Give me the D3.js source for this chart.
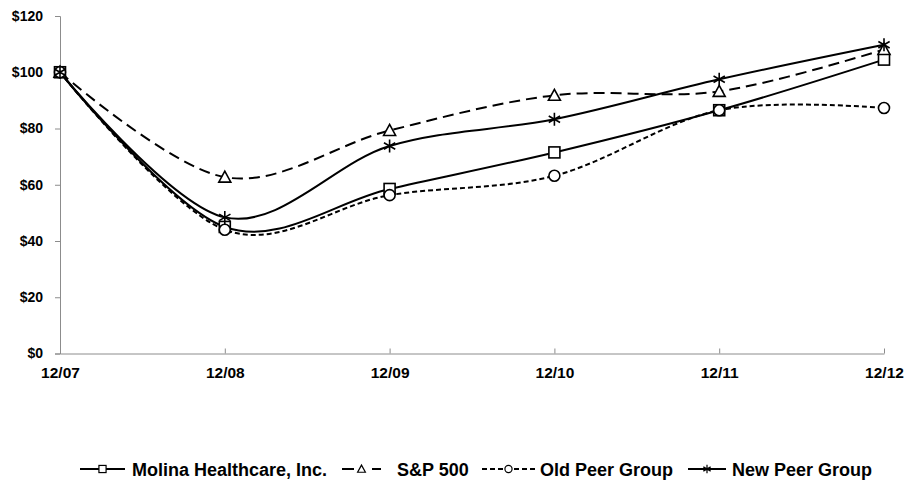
<!DOCTYPE html>
<html><head><meta charset="utf-8">
<script src="https://cdn.jsdelivr.net/npm/d3@7"></script>
<style>body{margin:0;background:#fff;}svg{display:block;font-family:"Liberation Sans",Arial,sans-serif;font-weight:bold;}</style>
</head><body>
<svg id="c" width="906" height="483"></svg>
<script>
const categories = ["12/07","12/08","12/09","12/10","12/11","12/12"];
const molina = [100, 45, 58.5, 71.5, 86.5, 104.5];
const sp500 = [100, 62.7, 79.3, 91.8, 93.2, 108.1];
const oldPeer = [100, 44, 56.3, 63.2, 86.5, 87.3];
const newPeer = [100, 48.4, 73.8, 83.3, 97.5, 109.8];
const yTicks = [0,20,40,60,80,100,120];

const series = [
  {name:"Molina Healthcare, Inc.", values:molina, dash:null, ldash:null, marker:"square", lx:80, lw:45, tx:132},
  {name:"S&P 500", values:sp500, dash:"11,6", ldash:"12,18", marker:"triangle", lx:342, lw:39, tx:397},
  {name:"Old Peer Group", values:oldPeer, dash:"5,3", ldash:"5,3", marker:"circle", lx:482, lw:53, tx:540},
  {name:"New Peer Group", values:newPeer, dash:null, ldash:null, marker:"star", lx:688, lw:38, tx:732}
];

const svg = d3.select("#c");
const x = d3.scalePoint().domain(categories).range([60, 884]);
const y = d3.scaleLinear().domain([0,120]).range([353.5, 16]);

// y axis
const ya = svg.append("g").attr("transform","translate(60,0)").call(d3.axisLeft(y).tickValues(yTicks).tickSize(5).tickFormat(d=>"$"+d));
ya.select(".domain").attr("stroke","#8c8c8c");
ya.selectAll(".tick line").attr("stroke","#8c8c8c");
ya.selectAll("text").attr("font-size",14).attr("font-weight","bold").attr("font-family","Liberation Sans, Arial").attr("fill","#000").attr("x",-17);

// x axis
const xa = svg.append("g").attr("transform","translate(0,353.5)").call(d3.axisBottom(x).tickSize(-5).tickSizeOuter(0));
xa.select(".domain").attr("stroke","#8c8c8c");
xa.selectAll(".tick line").attr("stroke","#8c8c8c");
xa.selectAll("text").attr("font-size",15.5).attr("font-weight","bold").attr("font-family","Liberation Sans, Arial").attr("fill","#000").attr("y",13);

const line = d3.line().x((d,i)=>x(categories[i])).y(d=>y(d)).curve(d3.curveCatmullRom.alpha(0));

function drawMarker(g, type, cx, cy, s){
  s = s||1;
  const sw = s<1?1.2:1.6;
  if(type==="square") g.append("rect").attr("x",cx-5.5*s).attr("y",cy-5.5*s).attr("width",11*s).attr("height",11*s).attr("fill","#fff").attr("stroke","#000").attr("stroke-width",sw);
  else if(type==="circle") g.append("circle").attr("cx",cx).attr("cy",cy).attr("r",5.5*s).attr("fill","#fff").attr("stroke","#000").attr("stroke-width",sw);
  else if(type==="triangle") g.append("path").attr("d",`M${cx},${cy-6*s}L${cx+6*s},${cy+5*s}L${cx-6*s},${cy+5*s}Z`).attr("fill","#fff").attr("stroke","#000").attr("stroke-width",sw);
  else if(type==="star"){
    const r=6.5*s;
    g.append("path").attr("d",`M${cx},${cy-r}V${cy+r}M${cx-r*0.87},${cy-r*0.5}L${cx+r*0.87},${cy+r*0.5}M${cx-r*0.87},${cy+r*0.5}L${cx+r*0.87},${cy-r*0.5}`).attr("stroke","#000").attr("stroke-width",sw).attr("fill","none");
  }
}

series.forEach(s=>{
  svg.append("path").attr("d",line(s.values)).attr("fill","none").attr("stroke","#000").attr("stroke-width",2).attr("stroke-dasharray",s.dash);
});
series.forEach(s=>{
  const g = svg.append("g");
  s.values.forEach((v,i)=>drawMarker(g, s.marker, x(categories[i]), y(v)));
});

// legend
const lg = svg.append("g");
const ly = 469;
series.forEach(s=>{
  lg.append("line").attr("x1",s.lx).attr("x2",s.lx+s.lw).attr("y1",ly).attr("y2",ly).attr("stroke","#000").attr("stroke-width",2).attr("stroke-dasharray",s.ldash);
  drawMarker(lg, s.marker, s.lx+s.lw/2, ly, 0.65);
  lg.append("text").attr("x",s.tx).attr("y",ly+7).attr("font-size",18).attr("font-weight","bold").text(s.name);
});
</script>
</body></html>
